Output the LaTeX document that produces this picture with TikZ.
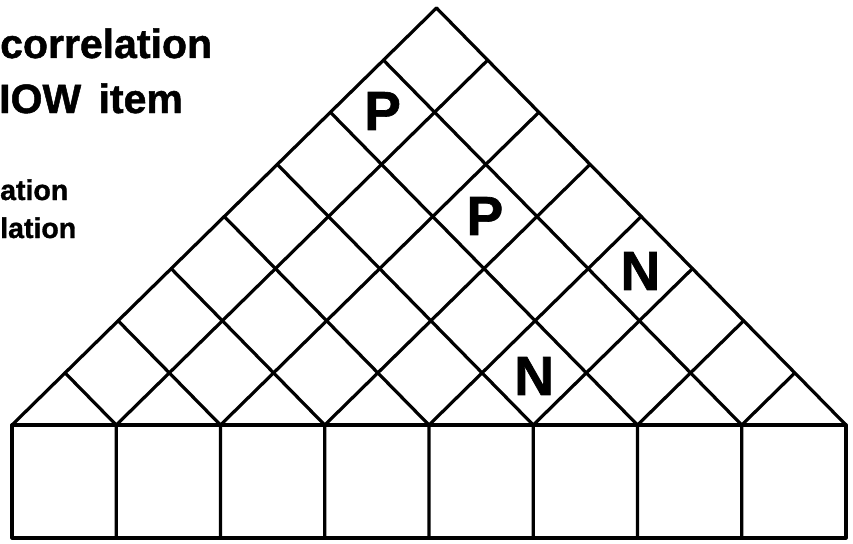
\documentclass[tikz,border=0pt]{standalone}
\usepackage{fontspec}
\setmainfont{Liberation Sans}[BoldFeatures={FakeBold=1.2}]
\begin{document}
\begin{tikzpicture}[x=1pt,y=-1pt,
  grid/.style={line width=3.2pt, line cap=round, line join=round},
  lbl/.style={font=\bfseries\fontsize{41}{41}\selectfont, anchor=base west, inner sep=0pt},
  sublbl/.style={font=\bfseries\fontsize{28.5}{28.5}\selectfont, anchor=base west, inner sep=0pt},
  cellmark/.style={font=\bfseries\fontsize{55}{55}\selectfont, inner sep=0pt}]
\useasboundingbox (0,0) rectangle (853,543);
\def\w{104.25}
% roof (correlation matrix), slightly slanted as in the reference
\begin{scope}[xslant=0.018, xshift=7.65pt]
  \foreach \k in {0,...,8} {
    \coordinate (B\k) at ({12+\k*\w},425);
    \coordinate (L\k) at ({12+\k*\w/2},{425-\k*\w/2});
    \coordinate (R\k) at ({846-(8-\k)*\w/2},{425-(8-\k)*\w/2});
  }
  \foreach \k in {0,...,8} \draw[grid] (B\k) -- (L\k) (B\k) -- (R\k);
  \node[cellmark] (p1) at ({12+7*\w/2}, 111) {P};
  \node[cellmark] (p2) at ({12+9*\w/2}, 216) {P};
  \node[cellmark] (n1) at ({12+12*\w/2}, 271) {N};
  \node[cellmark] (n2) at ({12+10*\w/2}, 376) {N};
\end{scope}
% row of HOW boxes
\foreach \k in {0,...,8} \coordinate (T\k) at ({12+\k*\w},538);
\draw[grid] (B0) rectangle (T8);
\foreach \k in {1,...,7} \draw[grid] (B\k) -- (T\k);
% legend text
\node[lbl] (t1) at (0,58) {correlation};
\node[lbl] (t2) at (-1,113) {IOW\hspace{6pt} item};
\node[sublbl] (t3) at (0,200) {ation};
\node[sublbl] (t4) at (0,238) {lation};
\end{tikzpicture}
\end{document}
